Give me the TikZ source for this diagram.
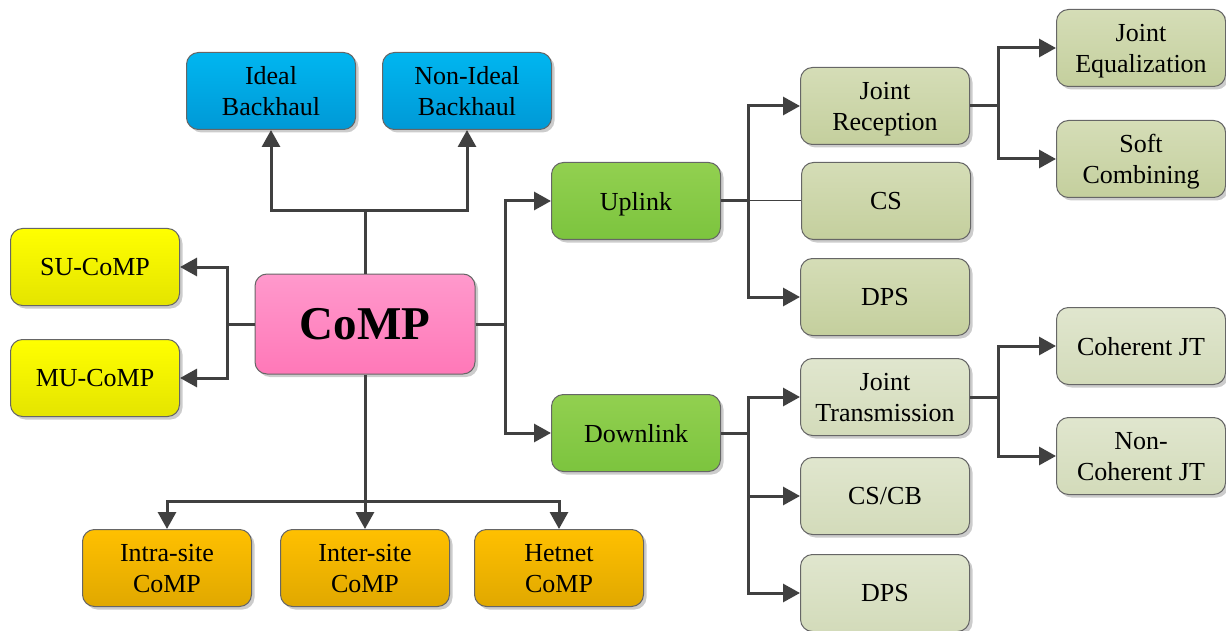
\documentclass[tikz,border=0pt]{standalone}
\usepackage{fontspec}
\setmainfont{Liberation Serif}
\usetikzlibrary{arrows.meta,shadows}
\definecolor{bluetop}{HTML}{00B6F0}\definecolor{bluebot}{HTML}{0099D6}
\definecolor{yeltop}{HTML}{FFFF00}\definecolor{yelbot}{HTML}{E4E400}
\definecolor{pinktop}{HTML}{FF99CC}\definecolor{pinkbot}{HTML}{FF78B8}
\definecolor{grntop}{HTML}{92D050}\definecolor{grnbot}{HTML}{7CC43E}
\definecolor{olvtop}{HTML}{D5DDB7}\definecolor{olvbot}{HTML}{C4CF9D}
\definecolor{paletop}{HTML}{E0E6CE}\definecolor{palebot}{HTML}{D3DBBA}
\definecolor{orgtop}{HTML}{FFC000}\definecolor{orgbot}{HTML}{E0A800}
\definecolor{linkcol}{HTML}{404040}
\begin{document}
\begin{tikzpicture}[x=1pt,y=1pt,>={Triangle[length=17pt,width=18pt]},line join=miter,
	box/.style={draw=black!60,line width=1pt,rounded corners=12pt,minimum width=169pt,minimum height=77pt,
		align=center,font=\fontsize{26}{31}\selectfont,text depth=0pt,
		drop shadow={shadow xshift=3pt,shadow yshift=-3pt,opacity=0.2,fill=black}},
	bluebox/.style={box,top color=bluetop,bottom color=bluebot},
	yelbox/.style={box,top color=yeltop,bottom color=yelbot},
	grnbox/.style={box,top color=grntop,bottom color=grnbot},
	olvbox/.style={box,top color=olvtop,bottom color=olvbot},
	palebox/.style={box,top color=paletop,bottom color=palebot},
	orgbox/.style={box,top color=orgtop,bottom color=orgbot},
	link/.style={draw=linkcol,line width=3pt}]
	\useasboundingbox (0,0) rectangle (1226,-631);
	% main node
	\node[box,top color=pinktop,bottom color=pinkbot,minimum width=220pt,minimum height=100pt,
		font=\fontsize{47}{50}\selectfont\bfseries] (comp) at (365,-324) {CoMP};
	\node[bluebox] (ideal) at (271,-91) {Ideal\\Backhaul};
	\node[bluebox] (nonideal) at (467,-91) {Non-Ideal\\Backhaul};
	\node[yelbox] (su) at (95,-267) {SU-CoMP};
	\node[yelbox] (mu) at (95,-378) {MU-CoMP};
	\node[orgbox] (intra) at (167,-568) {Intra-site\\CoMP};
	\node[orgbox] (inter) at (365,-568) {Inter-site\\CoMP};
	\node[orgbox] (hetnet) at (559,-568) {Hetnet\\CoMP};
	\node[grnbox] (up) at (636,-201) {Uplink};
	\node[grnbox] (down) at (636,-433) {Downlink};
	% uplink branch
	\node[olvbox] (jr) at (885,-106) {Joint\\Reception};
	\node[olvbox] (cs) at (886,-201) {CS};
	\node[olvbox] (dpsup) at (885,-297) {DPS};
	\node[olvbox] (je) at (1141,-48) {Joint\\Equalization};
	\node[olvbox] (sc) at (1141,-159) {Soft\\Combining};
	% downlink branch
	\node[palebox] (jt) at (885,-397) {Joint\\Transmission};
	\node[palebox] (cscb) at (885,-496) {CS/CB};
	\node[palebox] (dpsdown) at (885,-593) {DPS};
	\node[palebox] (cjt) at (1141,-346) {Coherent JT};
	\node[palebox] (ncjt) at (1141,-456) {Non-\\Coherent JT};
	% junction points
	\coordinate (jtop) at (365,-211);
	\coordinate (jleft) at (227,-324);
	\coordinate (jright) at (505,-324);
	\coordinate (jbot) at (365,-501);
	\coordinate (jup) at (748,-201);
	\coordinate (jjr) at (998,-106);
	\coordinate (jdown) at (748,-433);
	\coordinate (jjt) at (998,-397);
	\draw[link] (comp.north)--(jtop);
	\draw[link,->] (jtop)-|(ideal.south);
	\draw[link,->] (jtop)-|(nonideal.south);
	\draw[link] (comp.west)--(jleft);
	\draw[link,->] (jleft)|-(su.east);
	\draw[link,->] (jleft)|-(mu.east);
	\draw[link] (comp.east)--(jright);
	\draw[link,->] (jright)|-(up.west);
	\draw[link,->] (jright)|-(down.west);
	\draw[link,->] (comp.south)--(inter.north);
	\draw[link,->] (jbot)-|(intra.north);
	\draw[link,->] (jbot)-|(hetnet.north);
	\draw[link] (up.east)--(jup);
	\draw[link,->] (jup)|-(jr.west);
	\draw[link,->] (jup)|-(dpsup.west);
	\draw[linkcol,line width=1pt] (jup)--(cs.west);
	\draw[link] (jr.east)--(jjr);
	\draw[link,->] (jjr)|-(je.west);
	\draw[link,->] (jjr)|-(sc.west);
	\draw[link] (down.east)--(jdown);
	\draw[link,->] (jdown)|-(jt.west);
	\draw[link,->] (jdown)|-(cscb.west);
	\draw[link,->] (jdown)|-(dpsdown.west);
	\draw[link] (jt.east)--(jjt);
	\draw[link,->] (jjt)|-(cjt.west);
	\draw[link,->] (jjt)|-(ncjt.west);
\end{tikzpicture}
\end{document}
